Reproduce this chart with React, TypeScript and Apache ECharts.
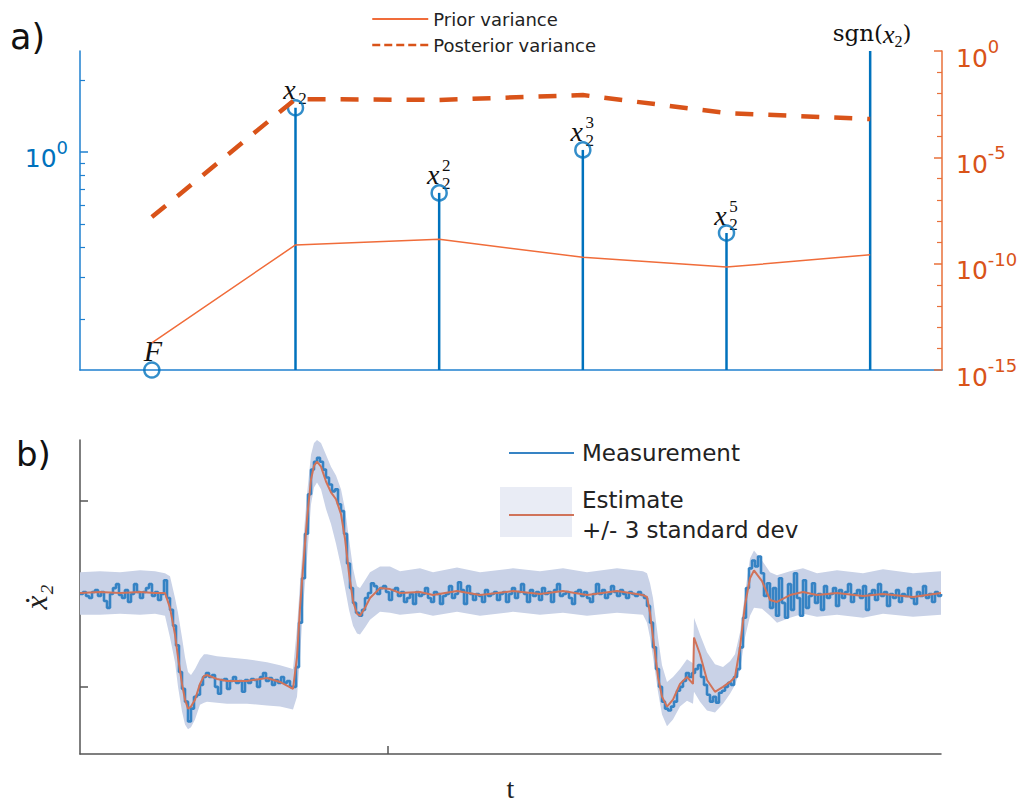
import { useEffect, useRef } from 'react';
import * as echarts from 'echarts';

// ---------- Panel a data ----------
const stemCategories = ['F', 'x2', 'x2^2', 'x2^3', 'x2^5', 'sgn(x2)'];
const stemValues = [0.123, 1.53, 0.675, 1.02, 0.459, 2.64];
const stemMarkers = [0.123, 1.53, 0.675, 1.02, 0.459, null];
const stemLabelBase = ['F', 'x', 'x', 'x', 'x', 'sgn'];
const stemLabelSub = ['', '2', '2', '2', '2', '2'];
const stemLabelSup = ['', '', '2', '3', '5', ''];
const priorVariance = [1.9e-14, 7.6e-10, 1.4e-9, 2.0e-10, 6.9e-11, 2.6e-10];
const posteriorVariance = [1.55e-8, 5.5e-3, 5.0e-3, 8.5e-3, 1.2e-3, 6.3e-4];
const leftMin = 0.123;
const leftMax = 2.64;
const leftMajorTicks = [1];
const leftMinorTicks = [0.2, 0.3, 0.4, 0.5, 0.6, 0.7, 0.8, 0.9, 2];
const rightMajorTicks = [1, 1e-5, 1e-10, 1e-15];
const rightMinorTicks = [1e-1, 1e-2, 1e-3, 1e-4, 1e-6, 1e-7, 1e-8, 1e-9, 1e-11, 1e-12, 1e-13, 1e-14];

// ---------- Panel b data ----------
const estTimes = [0, 20, 40, 60, 75, 85, 90, 95, 98, 102, 105, 108, 111, 115, 120, 124, 127, 137, 147, 167, 187, 200, 213, 217, 220, 223, 227, 231, 234, 237, 241, 246, 251, 256, 261, 265, 269, 273, 277, 280, 285, 290, 300, 310, 320, 340, 353, 377, 400, 433, 460, 483, 507, 537, 563, 567, 570, 573, 578, 582, 587, 593, 600, 607, 613, 614, 620, 627, 635, 643, 650, 655, 660, 665, 670, 674, 682, 690, 697, 710, 723, 737, 757, 783, 803, 833, 861];
const estimate = [1, 2, 1, 2, 1, 1, -14, -41, -64, -91, -107, -116, -114, -107, -91, -83, -82, -86, -88, -88, -85, -89, -96, -64, -14, 26, 76, 116, 130, 134, 129, 114, 103, 96, 81, 56, 21, -7, -20, -22, -14, -4, 6, 5, 1, 2, -1, 3, -1, 3, 0, 3, -1, 3, -1, -3, -19, -44, -84, -104, -114, -107, -91, -84, -91, -44, -61, -87, -99, -94, -89, -84, -54, -11, 16, 24, 13, -6, -8, -1, 2, -1, 1, -2, 0, -3, 1];
const bandUpper = [22, 23, 22, 24, 23, 21, 18, -4, -19, -44, -64, -79, -82, -76, -66, -61, -61, -63, -64, -66, -69, -72, -76, -34, 11, 51, 101, 141, 153, 156, 153, 141, 129, 120, 106, 86, 56, 26, 8, 6, 14, 22, 28, 28, 23, 26, 22, 27, 22, 26, 23, 26, 22, 26, 23, 21, 11, -4, -44, -72, -89, -84, -76, -66, -70, -24, -41, -59, -71, -74, -68, -61, -39, 1, 36, 44, 34, 22, 19, 23, 26, 21, 24, 21, 25, 21, 23];
const bandLower = [-21, -21, -20, -21, -20, -22, -44, -69, -94, -119, -132, -137, -135, -127, -112, -110, -109, -110, -111, -111, -113, -114, -117, -104, -64, -14, 36, 91, 108, 113, 106, 86, 71, 51, 28, 6, -16, -32, -40, -41, -34, -26, -18, -19, -21, -19, -22, -18, -22, -18, -21, -19, -22, -19, -21, -29, -44, -64, -99, -122, -134, -127, -114, -108, -111, -99, -109, -118, -120, -111, -101, -92, -77, -44, -22, -14, -15, -22, -29, -24, -20, -23, -21, -24, -20, -23, -21];
const measurementStep = 3;
const measurement = [
  0, 2, -2, -4, 2, 4, -2, 2, -7, -14, 0, 6, 10, -1, -4, 4, -8, 0, 10, 2, -4, 2, 6, 10, -2, 2, -6, 0, 14,
  -4, -16, -32, -52, -79, -96, -109, -129, -116, -104, -102, -92, -84, -80, -84, -82, -94, -101, -87, -86,
  -96, -88, -84, -90, -88, -99, -87, -90, -86, -87, -94, -84, -80, -88, -85, -92, -87, -90, -84, -90,
  -88, -94, -94, -74, -29, 16, 61, 101, 126, 134, 138, 134, 126, 118, 111, 104, 106, 91, 84, 61,
  31, 6, -9, -19, -22, -16, -4, 1, 11, 8, 0, 6, 8, 2, -6, 4, 6, -2,
  2, -8, -4, 0, -10, 2, -2, 0, 6, -4, -8, 2, 0, -10, -2, 0, 8, -4, 0, 12,
  4, -10, 8, 0, -6, 0, -2, -8, 4, -2, 0, 2, -6, 0, 2, -8, 0, 6, -4, 2,
  10, 0, -8, 4, -2, 2, -6, 6, 0, 2, -8, 4, 10, -2, 0, 2, -4, -10, 2, 4,
  -2, 2, -4, -8, 0, 10, 0, 4, -4, 0, 8, 2, -2, 4, 0, -4, 2, 0, -2, 2, -1,
  -4, -12, -29, -54, -76, -94, -109, -116, -118, -114, -109, -98, -94, -88, -80, -84, -80, -76, -72, -84,
  -92, -102, -109, -104, -110, -100, -98, -94, -90, -92, -84, -76, -54, -24, 6, 26, 34, 28, 38, 21,
  -2, 11, -14, 6, -22, 16, -9, -24, 10, -16, 21, -4, -22, 14, -14, -2, 11, -9, 0, -16,
  8, -4, 0, 6, -12, 4, -4, 2, 10, -8, 0, 4, -4, 8, -16, 0, 4, -6, 10, -2,
  2, -12, 0, -4, 4, -8, 0, -2, 6, -4, -10, 2, -2, 8, -4, 0, -8, 2, -2, 0,
];
const tTicks = [308];
const x2dotTicks = [94, -94];
const tMin = 0;
const tMax = 861;
const x2dotMin = -162;
const x2dotMax = 156;

const BLUE = '#0072BD';
const AXIS_BLUE = '#1F80CF';
const ORANGE_DARK = '#D95319';
const ORANGE_LIGHT = '#F06C3A';
const ORANGE_AXIS = '#E8703A';
const MEAS_BLUE = '#3683C4';
const EST_ORANGE = '#D0735A';
const BAND = '#C9D2E7';
const GRAY = '#555555';
const SERIF = 'DejaVu Serif';
const MATH = 'Liberation Serif';
const SANS = 'DejaVu Sans';
const EST_NAME = 'Estimate\n+/- 3 standard dev';

const expLabel = (v: number) => `{b|10}{s|${Math.round(Math.log10(v))}}`;
const expRich = (color: string) => ({
  b: { fontSize: 25, fontFamily: SANS, color, lineHeight: 27, padding: [8, 0, 0, 0], verticalAlign: 'top' },
  s: { fontSize: 18, fontFamily: SANS, color, lineHeight: 20, verticalAlign: 'top' },
});

export default function App() {
  const ref = useRef<HTMLDivElement>(null);
  useEffect(() => {
    document.body.style.margin = '0';
    const chart = echarts.init(ref.current!, null, { renderer: 'svg' });

    const stemRender = (params: any, api: any) => {
      const idx = params.dataIndex;
      const top = api.coord([api.value(0), api.value(1)]);
      const base = api.coord([api.value(0), leftMin]);
      const children: any[] = [
        {
          type: 'line',
          shape: { x1: base[0], y1: base[1], x2: top[0], y2: top[1] },
          style: { stroke: BLUE, lineWidth: 2.5 },
        },
      ];
      const txt = (text: string, x: number, y: number, size: number, italic: boolean) => ({
        type: 'text',
        x,
        y,
        style: {
          text,
          fontSize: size,
          fontFamily: MATH,
          fontStyle: italic ? 'italic' : 'normal',
          fill: '#111',
          align: 'center',
          verticalAlign: 'middle',
        },
      });
      if (idx === 0) {
        children.push(txt(stemLabelBase[idx], top[0] + 1, top[1] - 20, 30, true));
      } else if (stemLabelBase[idx] === 'x') {
        children.push(txt(stemLabelBase[idx], top[0] - 6, top[1] - 18, 28, true));
        if (stemLabelSub[idx]) children.push(txt(stemLabelSub[idx], top[0] + 7, top[1] - 9, 17, false));
        if (stemLabelSup[idx]) children.push(txt(stemLabelSup[idx], top[0] + 7, top[1] - 27, 17, false));
      } else {
        children.push({
          type: 'text',
          x: top[0] + 2,
          y: top[1] - 16,
          style: {
            text: `{r|${stemLabelBase[idx]}(}{i|x}{s|${stemLabelSub[idx]}}{r|)}`,
            align: 'center',
            verticalAlign: 'middle',
            fill: '#111',
            rich: {
              r: { fontSize: 23, fontFamily: SERIF, lineHeight: 27, verticalAlign: 'top', fill: '#111' },
              i: { fontSize: 26, fontFamily: MATH, fontStyle: 'italic', lineHeight: 27, verticalAlign: 'top', fill: '#111' },
              s: { fontSize: 16, fontFamily: MATH, lineHeight: 16, padding: [12, 0, 0, 0], verticalAlign: 'top', fill: '#111' },
            },
          },
        });
      }
      return { type: 'group', children };
    };

    const bandRender = (params: any, api: any) => {
      if (params.dataIndex !== 0) return null;
      const pts: number[][] = [];
      for (let i = 0; i < estTimes.length; i++) pts.push(api.coord([estTimes[i], bandUpper[i]]));
      for (let i = estTimes.length - 1; i >= 0; i--) pts.push(api.coord([estTimes[i], bandLower[i]]));
      return { type: 'polygon', shape: { points: pts }, style: { fill: BAND } };
    };

    const hiddenSymbol = { opacity: 0 };

    const option: any = {
      animation: false,
      backgroundColor: '#ffffff',
      grid: [
        { left: 80, right: 85, top: 51, height: 319 },
        { left: 80, right: 86, top: 440, height: 318 },
      ],
      xAxis: [
        {
          type: 'category',
          gridIndex: 0,
          data: stemCategories,
          boundaryGap: true,
          axisLine: { show: true, onZero: false, lineStyle: { color: AXIS_BLUE, width: 1.5 } },
          axisTick: { show: false },
          axisLabel: { show: false },
          splitLine: { show: false },
        },
        {
          type: 'value',
          gridIndex: 1,
          min: tMin,
          max: tMax,
          name: 't',
          nameLocation: 'middle',
          nameGap: 20,
          nameTextStyle: { fontSize: 28, fontFamily: MATH, color: '#222' },
          axisLine: { show: true, onZero: false, lineStyle: { color: GRAY, width: 1.5 } },
          axisTick: { show: true, inside: true, length: 8, customValues: tTicks, lineStyle: { color: GRAY, width: 1.5 } },
          axisLabel: { show: false },
          splitLine: { show: false },
        },
      ],
      yAxis: [
        {
          type: 'log',
          gridIndex: 0,
          position: 'left',
          min: leftMin,
          max: leftMax,
          axisLine: { show: true, onZero: false, lineStyle: { color: AXIS_BLUE, width: 1.5 } },
          axisTick: { show: true, inside: true, length: 8, customValues: leftMajorTicks, lineStyle: { color: AXIS_BLUE, width: 1.5 } },
          axisLabel: { show: true, customValues: leftMajorTicks, margin: 12, formatter: expLabel, rich: expRich(BLUE) },
          splitLine: { show: false },
        },
        {
          type: 'log',
          gridIndex: 0,
          position: 'left',
          min: leftMin,
          max: leftMax,
          axisLine: { show: false },
          axisTick: { show: true, inside: true, length: 5, customValues: leftMinorTicks, lineStyle: { color: AXIS_BLUE, width: 1.2 } },
          axisLabel: { show: false },
          splitLine: { show: false },
        },
        {
          type: 'log',
          gridIndex: 0,
          position: 'right',
          min: 1e-15,
          max: 1,
          axisLine: { show: true, onZero: false, lineStyle: { color: ORANGE_AXIS, width: 1.5 } },
          axisTick: { show: true, inside: true, length: 8, customValues: rightMajorTicks, lineStyle: { color: ORANGE_AXIS, width: 1.5 } },
          axisLabel: { show: true, customValues: rightMajorTicks, margin: 14, formatter: expLabel, rich: expRich(ORANGE_DARK) },
          splitLine: { show: false },
        },
        {
          type: 'log',
          gridIndex: 0,
          position: 'right',
          min: 1e-15,
          max: 1,
          axisLine: { show: false },
          axisTick: { show: true, inside: true, length: 5, customValues: rightMinorTicks, lineStyle: { color: ORANGE_AXIS, width: 1.2 } },
          axisLabel: { show: false },
          splitLine: { show: false },
        },
        {
          type: 'value',
          gridIndex: 1,
          min: x2dotMin,
          max: x2dotMax,
          name: 'ẋ₂',
          nameLocation: 'middle',
          nameRotate: 90,
          nameGap: 28,
          nameTextStyle: { fontSize: 32, fontFamily: MATH, fontStyle: 'italic', color: '#222' },
          axisLine: { show: true, onZero: false, lineStyle: { color: GRAY, width: 1.5 } },
          axisTick: { show: true, inside: true, length: 8, customValues: x2dotTicks, lineStyle: { color: GRAY, width: 1.5 } },
          axisLabel: { show: false },
          splitLine: { show: false },
        },
      ],
      legend: [
        {
          orient: 'vertical',
          left: 366,
          top: 3,
          itemWidth: 56,
          itemHeight: 14,
          itemGap: 4,
          selectedMode: false,
          textStyle: { fontSize: 18, lineHeight: 22, fontFamily: SANS, color: '#222', padding: [0, 0, 0, 0] },
          data: [
            { name: 'Prior variance', itemStyle: hiddenSymbol, lineStyle: { width: 2 } },
            { name: 'Posterior variance', itemStyle: hiddenSymbol, lineStyle: { width: 2.5, type: [8, 4] } },
          ],
        },
        {
          orient: 'vertical',
          left: 503,
          top: 433,
          itemWidth: 65,
          itemHeight: 14,
          itemGap: 17,
          selectedMode: false,
          textStyle: { fontSize: 23, lineHeight: 30, fontFamily: SANS, color: '#222', padding: [0, 0, 0, 3] },
          data: [
            { name: 'Measurement', itemStyle: hiddenSymbol, lineStyle: { width: 2 } },
            { name: EST_NAME, itemStyle: hiddenSymbol, lineStyle: { width: 2 } },
          ],
        },
      ],
      graphic: [
        { type: 'text', x: 10, y: 37, style: { text: 'a)', fontSize: 35, fontFamily: SANS, fill: '#111', verticalAlign: 'middle' } },
        { type: 'text', x: 16, y: 454, style: { text: 'b)', fontSize: 34, fontFamily: SANS, fill: '#111', verticalAlign: 'middle' } },
        { type: 'rect', z: 1, shape: { x: 500, y: 487, width: 72, height: 50 }, style: { fill: '#E9ECF5' } },
      ],
      series: [
        {
          type: 'custom',
          name: 'stems',
          xAxisIndex: 0,
          yAxisIndex: 0,
          renderItem: stemRender,
          data: stemValues.map((v, i) => [i, v]),
          z: 3,
        },
        {
          type: 'scatter',
          name: 'stem markers',
          xAxisIndex: 0,
          yAxisIndex: 0,
          symbol: 'circle',
          symbolSize: 15,
          clip: false,
          itemStyle: { color: 'rgba(0,0,0,0)', borderColor: BLUE, borderWidth: 2.5 },
          data: stemMarkers.map((v) => (v === null ? '-' : v)),
          z: 4,
        },
        {
          type: 'line',
          name: 'Prior variance',
          xAxisIndex: 0,
          yAxisIndex: 2,
          symbol: 'none',
          color: ORANGE_LIGHT,
          lineStyle: { color: ORANGE_LIGHT, width: 1.5 },
          data: priorVariance,
          z: 5,
        },
        {
          type: 'line',
          name: 'Posterior variance',
          xAxisIndex: 0,
          yAxisIndex: 2,
          symbol: 'none',
          color: ORANGE_DARK,
          lineStyle: { color: ORANGE_DARK, width: 4.5, type: [18, 15] },
          data: posteriorVariance,
          z: 5,
        },
        {
          type: 'custom',
          name: 'band',
          xAxisIndex: 1,
          yAxisIndex: 4,
          renderItem: bandRender,
          encode: { x: 0, y: [1, 2] },
          data: estTimes.map((t, i) => [t, bandLower[i], bandUpper[i]]),
          z: 1,
        },
        {
          type: 'line',
          name: 'Measurement',
          xAxisIndex: 1,
          yAxisIndex: 4,
          symbol: 'none',
          step: 'end',
          color: MEAS_BLUE,
          lineStyle: { color: MEAS_BLUE, width: 2.6 },
          data: measurement.map((v, i) => [i * measurementStep, v]),
          z: 2,
        },
        {
          type: 'line',
          name: EST_NAME,
          xAxisIndex: 1,
          yAxisIndex: 4,
          symbol: 'none',
          color: EST_ORANGE,
          lineStyle: { color: EST_ORANGE, width: 2 },
          data: estTimes.map((t, i) => [t, estimate[i]]),
          z: 3,
        },
      ],
    };
    chart.setOption(option);
    return () => chart.dispose();
  }, []);
  return <div ref={ref} style={{ width: 1027, height: 803 }} />;
}
